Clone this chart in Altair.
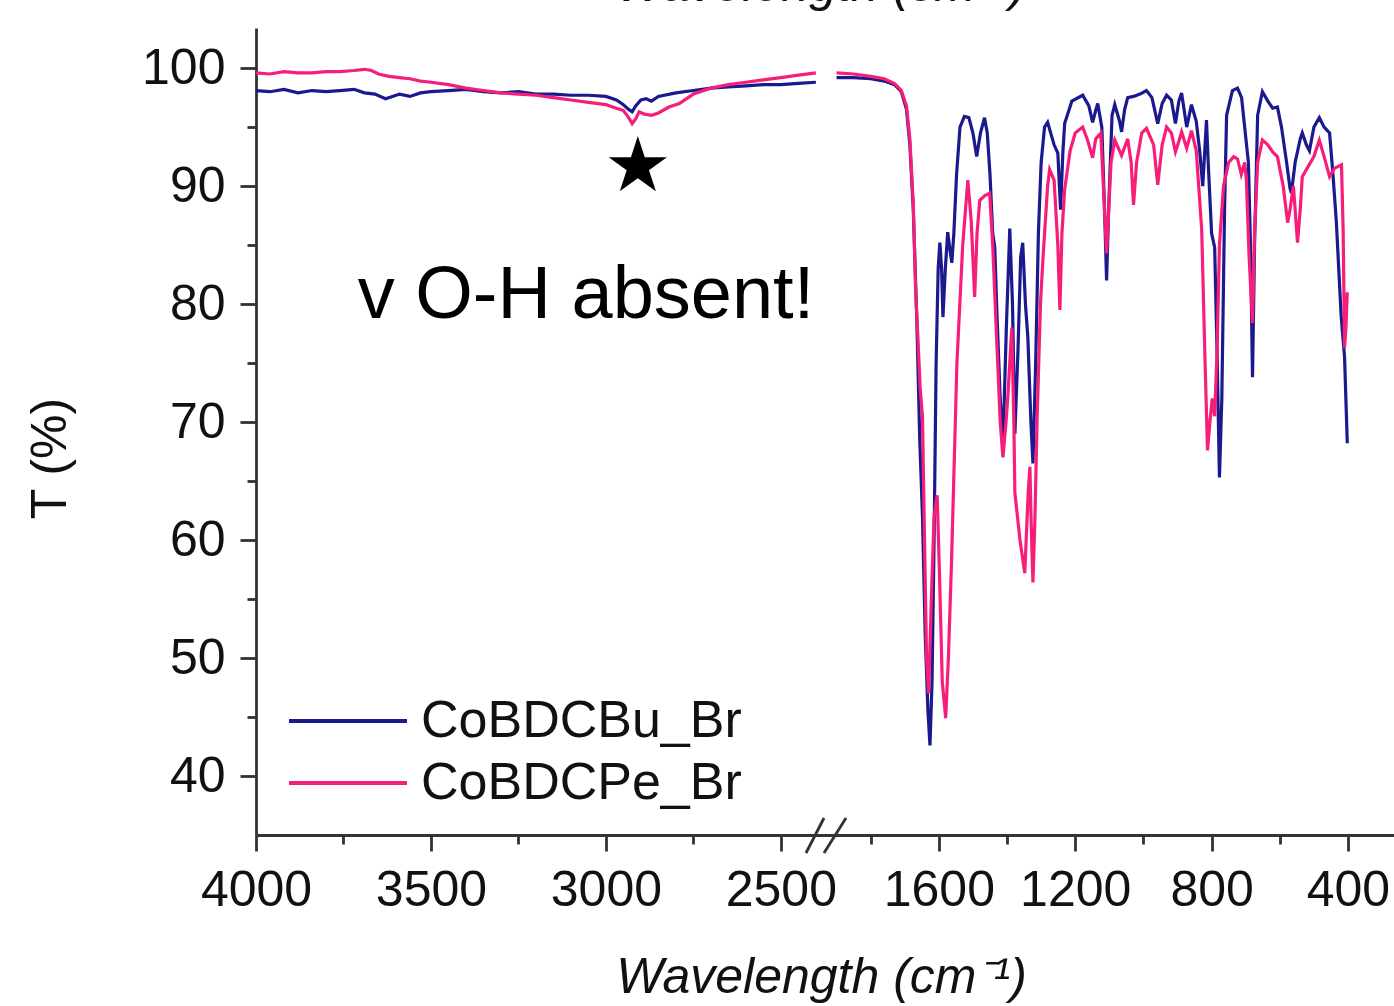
import altair as alt
import pandas as pd

SERIES = ["CoBDCBu_Br", "CoBDCPe_Br"]
COLORS = ["#1a1a8e", "#f71e7a"]
FONT = "Liberation Sans"

# ---- left segment (4000 - 2400 cm-1) ----
BU_LEFT_WN = [4000, 3960, 3920, 3880, 3840, 3800, 3760, 3720, 3690, 3660, 3630, 3610, 3590, 3560, 3530,
              3500, 3450, 3400, 3350, 3300, 3250, 3200, 3150, 3100, 3050, 3000, 2970, 2950, 2935, 2925,
              2915, 2900, 2885, 2870, 2850, 2800, 2750, 2700, 2650, 2600, 2550, 2500, 2450, 2400]
BU_LEFT_T = [98.1, 98.0, 98.2, 97.9, 98.1, 98.0, 98.1, 98.2, 97.9, 97.8, 97.4, 97.6, 97.8, 97.6, 97.9,
             98.0, 98.1, 98.2, 98.0, 97.9, 98.0, 97.8, 97.8, 97.7, 97.7, 97.6, 97.3, 96.9, 96.5, 96.3,
             96.8, 97.3, 97.4, 97.2, 97.6, 97.9, 98.1, 98.3, 98.4, 98.5, 98.6, 98.6, 98.7, 98.8]

PE_LEFT_WN = [4000, 3960, 3920, 3880, 3840, 3800, 3760, 3720, 3690, 3670, 3650, 3620, 3590, 3560, 3530,
              3500, 3450, 3400, 3350, 3300, 3250, 3200, 3150, 3100, 3050, 3000, 2970, 2950, 2935, 2925,
              2915, 2905, 2890, 2870, 2850, 2820, 2790, 2750, 2700, 2650, 2600, 2550, 2500, 2450, 2400]
PE_LEFT_T = [99.6, 99.5, 99.7, 99.6, 99.6, 99.7, 99.7, 99.8, 99.9, 99.8, 99.5, 99.3, 99.2, 99.1, 98.9,
             98.8, 98.6, 98.3, 98.1, 97.9, 97.8, 97.7, 97.5, 97.3, 97.1, 96.9, 96.6, 96.4, 95.8, 95.3,
             95.7, 96.3, 96.1, 96.0, 96.2, 96.7, 97.0, 97.8, 98.3, 98.6, 98.8, 99.0, 99.2, 99.4, 99.6]

# ---- right segment (1900 - 400 cm-1) ----
BU_RIGHT_WN = [1900, 1850, 1800, 1760, 1730, 1710, 1695, 1685, 1675, 1665, 1656, 1648, 1640, 1632, 1626,
               1620, 1614, 1608, 1602, 1597, 1592, 1588, 1581, 1574, 1567, 1562, 1556, 1548, 1538, 1525,
               1512, 1500, 1489, 1478, 1466, 1458, 1450, 1442, 1436, 1430, 1420, 1412, 1402, 1392, 1384,
               1377, 1368, 1360, 1354, 1346, 1339, 1330, 1324, 1316, 1308, 1300, 1290, 1281, 1262, 1251,
               1243, 1236, 1231, 1210, 1178, 1160, 1149, 1141, 1134, 1122, 1114, 1108, 1102, 1092, 1084,
               1070, 1064, 1055, 1046, 1029, 1010, 991, 975, 958, 945, 932, 918, 906, 896, 888,
               873, 859, 845, 835, 826, 820, 815, 810, 800, 791, 784, 777, 770, 762, 756,
               739, 724, 712, 703, 692, 686, 680, 674, 665, 651, 635, 621, 607, 595, 580,
               570, 566, 555, 540, 534, 522, 513, 500, 484, 470, 454, 444, 434, 420, 410, 402]
BU_RIGHT_T = [99.2, 99.2, 99.1, 98.9, 98.6, 98.0, 96.5, 93.5, 88.0, 79.0, 68.5, 62.0, 52.0, 45.5, 42.6,
              48.0, 60.0, 75.0, 83.0, 85.2, 83.0, 78.9, 83.0, 86.1, 84.5, 83.5, 86.0, 91.0, 95.0, 95.9,
              95.8, 94.5, 92.5, 94.5, 95.8, 94.5, 91.0, 86.0, 84.8, 79.5, 72.0, 68.0, 78.0, 86.4, 80.0,
              69.0, 76.0, 84.0, 85.2, 80.0, 77.2, 70.0, 66.5, 75.0, 86.0, 92.0, 95.0, 95.4, 93.5, 92.8,
              88.0, 93.0, 95.3, 97.2, 97.7, 96.8, 95.4, 96.3, 97.0, 95.0, 88.0, 82.0, 88.0, 96.0, 96.9,
              95.5, 94.6, 96.5, 97.5, 97.6, 97.8, 98.1, 97.5, 95.3, 97.0, 97.7, 97.3, 95.3, 97.2, 97.9,
              95.0, 96.9, 95.5, 93.0, 90.0, 93.0, 95.6, 92.0, 86.0, 84.8, 76.0, 65.3, 72.0, 88.0, 96.0,
              98.1, 98.3, 97.5, 95.0, 92.0, 85.0, 73.8, 85.0, 96.0, 98.0, 97.2, 96.6, 96.7, 95.0, 92.0,
              89.8, 89.4, 92.0, 94.0, 94.5, 93.5, 93.0, 95.0, 95.8, 95.0, 94.5, 91.0, 86.9, 79.0, 75.5, 68.2]

PE_RIGHT_WN = [1900, 1850, 1800, 1760, 1730, 1710, 1695, 1685, 1675, 1668, 1662, 1655, 1648, 1642, 1636,
               1630, 1622, 1614, 1605, 1598, 1590, 1580, 1572, 1563, 1547, 1530, 1515, 1505, 1495, 1488,
               1480, 1465, 1451, 1442, 1430, 1420, 1412, 1403, 1398, 1386, 1380, 1377, 1362, 1348, 1338,
               1333, 1328, 1324, 1318, 1312, 1302, 1295, 1281, 1275, 1262, 1251, 1245, 1239, 1231, 1215,
               1200, 1178, 1165, 1149, 1140, 1125, 1108, 1095, 1084, 1064, 1046, 1036, 1029, 1020, 1005,
               991, 970, 958, 945, 932, 918, 906, 896, 888, 873, 859, 845, 829, 820, 812,
               805, 798, 791, 784, 777, 765, 750, 735, 724, 713, 703, 698, 690, 680, 674,
               665, 651, 635, 621, 607, 590, 577, 570, 560, 548, 540, 534, 520, 500, 484,
               470, 454, 440, 419, 414, 410, 406, 402]
PE_RIGHT_T = [99.6, 99.5, 99.3, 99.1, 98.7, 98.1, 96.8, 94.0, 88.5, 81.0, 77.5, 73.0, 70.4, 60.0, 50.0,
              47.0, 55.0, 62.0, 63.8, 57.0, 48.0, 44.9, 50.0, 58.0, 75.0, 85.0, 90.5, 87.0, 80.6, 86.0,
              88.8, 89.2, 89.4, 85.0, 76.7, 70.0, 67.0, 70.0, 72.0, 78.0, 70.0, 64.0, 60.0, 57.2, 64.0,
              66.2, 60.0, 56.4, 62.0, 70.0, 80.0, 83.7, 90.0, 91.4, 90.5, 85.0, 79.5, 86.0, 89.7, 93.0,
              94.5, 95.0, 94.0, 92.4, 94.0, 94.5, 84.3, 92.0, 93.9, 92.6, 94.0, 92.0, 88.4, 92.0, 94.5,
              94.9, 93.5, 90.1, 93.5, 95.0, 94.5, 92.9, 93.8, 94.6, 93.2, 94.7, 93.0, 86.3, 76.0, 67.6,
              70.0, 72.0, 70.5, 76.0, 85.0, 90.0, 92.0, 92.5, 92.3, 91.0, 92.0, 90.5, 84.0, 78.4, 86.0,
              92.0, 93.9, 93.5, 92.9, 92.5, 90.0, 86.9, 88.0, 90.0, 85.2, 88.0, 90.8, 91.5, 92.5, 93.9,
              92.5, 90.8, 91.5, 91.8, 86.0, 76.3, 78.0, 81.0]

# axis / scale settings (broken x axis via piecewise scale)
X_DOMAIN = [4000, 2371, 1931, 265]
X_RANGE = [0, 570, 570, 1138]
Y_DOMAIN = [35, 103.4]
X_MAJOR = [4000, 3500, 3000, 2500, 1600, 1200, 800, 400]
X_MINOR = [3750, 3250, 2750, 1800, 1400, 1000, 600]
Y_MAJOR = [40, 50, 60, 70, 80, 90, 100]
Y_MINOR = [45, 55, 65, 75, 85, 95]

X_TITLE = "Wavelength (cm⁻¹)"
Y_TITLE = "T (%)"
NOTE_TEXT = ["v O-H absent!"]
NOTE_WN = [3057]
NOTE_T = [78.8]
STAR_WN = [2909]
STAR_T = [91.5]
BREAK_WN = [2371]
BREAK_T = [35]

rows = []
for series, seg, wns, ts in [
    (SERIES[0], "L", BU_LEFT_WN, BU_LEFT_T),
    (SERIES[0], "R", BU_RIGHT_WN, BU_RIGHT_T),
    (SERIES[1], "L", PE_LEFT_WN, PE_LEFT_T),
    (SERIES[1], "R", PE_RIGHT_WN, PE_RIGHT_T),
]:
    assert len(wns) == len(ts), (series, seg, len(wns), len(ts))
    for w, t in zip(wns, ts):
        rows.append({"wn": w, "T": t, "series": series, "seg": series + seg})
df = pd.DataFrame(rows)

xscale = alt.Scale(domain=X_DOMAIN, range=X_RANGE, nice=False, zero=False)
yscale = alt.Scale(domain=Y_DOMAIN, nice=False, zero=False)

AX = dict(domainColor="#333333", domainWidth=2.8, tickColor="#333333", tickWidth=2.8, grid=False,
          labelFont=FONT, labelFontSize=50, labelColor="#111111", labelFlush=False, labelOverlap=False,
          titleFont=FONT, titleFontSize=50, titleColor="#111111", titleFontWeight="normal")

x_axis = alt.Axis(values=X_MAJOR, format="d", tickSize=16, labelPadding=14, title=X_TITLE,
                  titleFontStyle="italic", titleX=565, titleY=157, titleAlign="center",
                  titleBaseline="alphabetic", orient="bottom", **AX)
y_axis = alt.Axis(values=Y_MAJOR, format="d", tickSize=16, labelPadding=15, title=Y_TITLE,
                  titleAngle=270, titleX=-191, titleY=430, titleAlign="center",
                  titleBaseline="alphabetic", orient="left", **AX)
x_minor_axis = alt.Axis(values=X_MINOR, tickSize=9, labels=False, domain=False, title=None,
                        orient="bottom", tickColor="#333333", tickWidth=2.8, grid=False)
y_minor_axis = alt.Axis(values=Y_MINOR, tickSize=9, labels=False, domain=False, title=None,
                        orient="left", tickColor="#333333", tickWidth=2.8, grid=False)

legend = alt.Legend(orient="none", legendX=31, legendY=667, title=None, symbolType="stroke",
                    symbolSize=13924, symbolStrokeWidth=4, labelFont=FONT, labelFontSize=52,
                    labelColor="#111111", labelOffset=12, rowPadding=10, clipHeight=52,
                    labelLimit=800, padding=0)

lines = alt.Chart(df).mark_line(strokeWidth=3.2).encode(
    x=alt.X("wn:Q", scale=xscale, axis=x_axis),
    y=alt.Y("T:Q", scale=yscale, axis=y_axis),
    color=alt.Color("series:N", scale=alt.Scale(domain=SERIES, range=COLORS), legend=legend),
    detail="seg:N",
)

minor = alt.Chart(df).mark_line(opacity=0).encode(
    x=alt.X("wn:Q", scale=xscale, axis=x_minor_axis),
    y=alt.Y("T:Q", scale=yscale, axis=y_minor_axis),
    detail="seg:N",
)

star_df = pd.DataFrame({"wn": STAR_WN, "T": STAR_T, "label": ["★"]})
star = alt.Chart(star_df).mark_text(font="DejaVu Sans", fontSize=76, color="black",
                                   align="center", baseline="middle").encode(
    x=alt.X("wn:Q", axis=None), y=alt.Y("T:Q", axis=None), text="label:N")

note_df = pd.DataFrame({"wn": NOTE_WN, "T": NOTE_T, "label": NOTE_TEXT})
note = alt.Chart(note_df).mark_text(font=FONT, fontSize=74, color="black",
                                   align="center", baseline="alphabetic").encode(
    x=alt.X("wn:Q", axis=None), y=alt.Y("T:Q", axis=None), text="label:N")

brk_df = pd.DataFrame({"wn": BREAK_WN, "T": BREAK_T})
brk = alt.Chart(brk_df).mark_point(shape="M-1,0.9L-0.1,-0.85M-0.1,0.9L1,-0.85", size=1600,
                                   filled=False, strokeWidth=2.8, color="#333333", opacity=1).encode(
    x=alt.X("wn:Q", axis=None), y=alt.Y("T:Q", axis=None))

top_df = pd.DataFrame({"label": [X_TITLE]})
top_title = alt.Chart(top_df).mark_text(font=FONT, fontSize=50, fontStyle="italic", color="#111111",
                                        align="center", baseline="alphabetic").encode(
    x=alt.value(565), y=alt.value(-27), text="label:N")

chart = alt.layer(lines, minor, star, note, brk, top_title).resolve_axis(
    x="independent", y="independent"
).properties(
    width=1138, height=807,
    autosize=alt.AutoSizeParams(type="none"),
    padding={"left": 256, "top": 28, "right": 0, "bottom": 171},
    background="white",
).configure_view(stroke=None)

chart.save("out.html", embed_options={"renderer": "svg", "actions": False})
